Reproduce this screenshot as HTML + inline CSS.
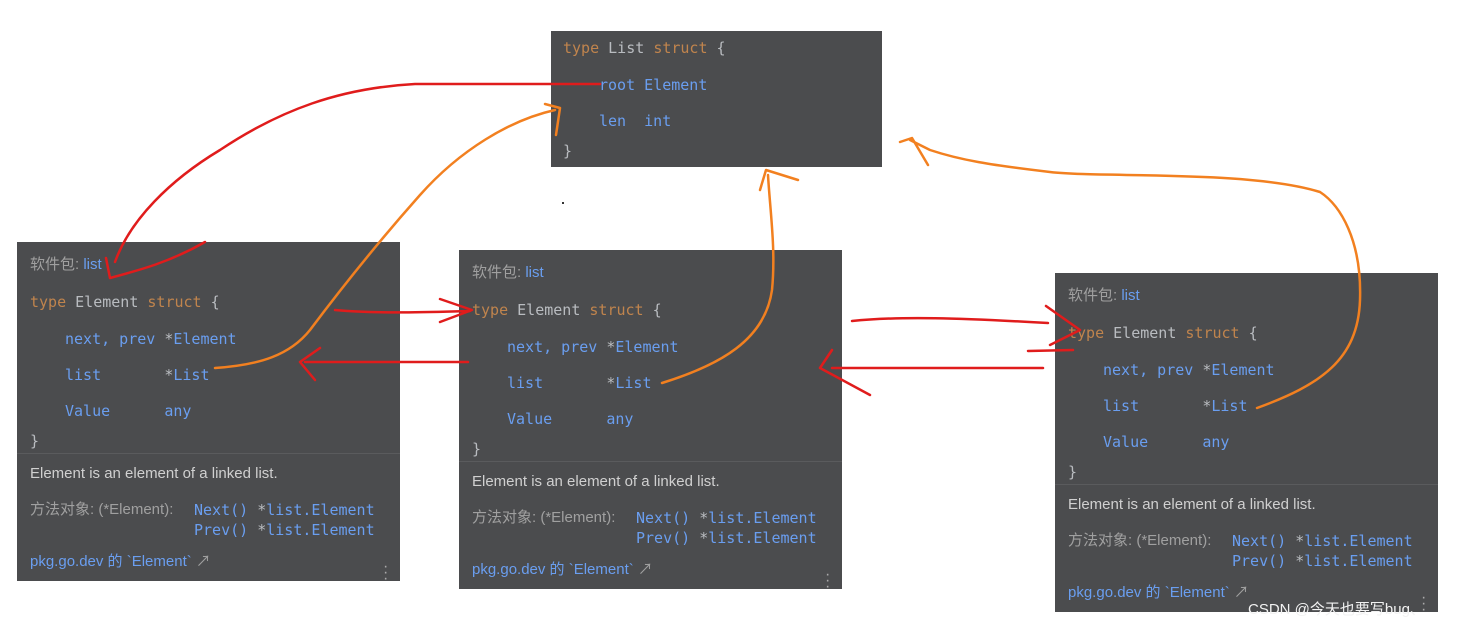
<!DOCTYPE html>
<html><head><meta charset="utf-8"><style>
body{margin:0;width:1474px;height:631px;background:#fff;position:relative;overflow:hidden;font-family:"Liberation Sans","Noto Sans CJK SC",sans-serif}
.box{position:absolute;background:#4b4c4e;}
.l{position:absolute;white-space:pre;font-size:15px;line-height:18px}
.m{font-family:"DejaVu Sans Mono","Liberation Mono",monospace;font-size:15px;}
.k{color:#c0844d}.w{color:#b9bcc0}.b{color:#6a9ef0}.g{color:#a0a0a0}.d{color:#d0d0d0}
.div{position:absolute;left:0;right:0;height:1px;background:#5a5b5d}
.dots{position:absolute;width:4px;color:#aaa;font-size:16px;line-height:6px}
</style></head><body>
<div class="box" style="left:551px;top:31px;width:331px;height:136px">
<div class="l m" style="left:12px;top:8px"><span class="k">type</span> <span class="w">List</span> <span class="k">struct</span> <span class="w">{</span></div>
<div class="l m b" style="left:48px;top:45px">root Element</div>
<div class="l m b" style="left:48px;top:81px">len  int</div>
<div class="l m w" style="left:12px;top:111px">}</div>
</div>

<div class="box" style="left:17px;top:242px;width:383px;height:339px">
<div class="l" style="left:13px;top:14px"><span class="g">软件包: </span><span class="b">list</span></div>
<div class="l m" style="left:13px;top:51px"><span class="k">type</span> <span class="w">Element</span> <span class="k">struct</span> <span class="w">{</span></div>
<div class="l m b" style="left:48px;top:88px">next, prev <span class="w">*</span>Element</div>
<div class="l m b" style="left:48px;top:124px">list       <span class="w">*</span>List</div>
<div class="l m b" style="left:48px;top:160px">Value      any</div>
<div class="l m w" style="left:13px;top:190px">}</div>
<div class="div" style="top:211px"></div>
<div class="l d" style="left:13px;top:223px">Element is an element of a linked list.</div>
<div class="l g" style="left:13px;top:259px">方法对象: (*Element):</div>
<div class="l m b" style="left:177px;top:259px">Next() <span class="w">*</span>list.Element</div>
<div class="l m b" style="left:177px;top:279px">Prev() <span class="w">*</span>list.Element</div>
<div class="l b" style="left:13px;top:311px">pkg.go.dev 的 `Element`<span class="g"> ↗</span></div>
<div class="dots" style="left:366px;top:322px">·<br>·<br>·</div>
</div>

<div class="box" style="left:459px;top:250px;width:383px;height:339px">
<div class="l" style="left:13px;top:14px"><span class="g">软件包: </span><span class="b">list</span></div>
<div class="l m" style="left:13px;top:51px"><span class="k">type</span> <span class="w">Element</span> <span class="k">struct</span> <span class="w">{</span></div>
<div class="l m b" style="left:48px;top:88px">next, prev <span class="w">*</span>Element</div>
<div class="l m b" style="left:48px;top:124px">list       <span class="w">*</span>List</div>
<div class="l m b" style="left:48px;top:160px">Value      any</div>
<div class="l m w" style="left:13px;top:190px">}</div>
<div class="div" style="top:211px"></div>
<div class="l d" style="left:13px;top:223px">Element is an element of a linked list.</div>
<div class="l g" style="left:13px;top:259px">方法对象: (*Element):</div>
<div class="l m b" style="left:177px;top:259px">Next() <span class="w">*</span>list.Element</div>
<div class="l m b" style="left:177px;top:279px">Prev() <span class="w">*</span>list.Element</div>
<div class="l b" style="left:13px;top:311px">pkg.go.dev 的 `Element`<span class="g"> ↗</span></div>
<div class="dots" style="left:366px;top:322px">·<br>·<br>·</div>
</div>

<div class="box" style="left:1055px;top:273px;width:383px;height:339px">
<div class="l" style="left:13px;top:14px"><span class="g">软件包: </span><span class="b">list</span></div>
<div class="l m" style="left:13px;top:51px"><span class="k">type</span> <span class="w">Element</span> <span class="k">struct</span> <span class="w">{</span></div>
<div class="l m b" style="left:48px;top:88px">next, prev <span class="w">*</span>Element</div>
<div class="l m b" style="left:48px;top:124px">list       <span class="w">*</span>List</div>
<div class="l m b" style="left:48px;top:160px">Value      any</div>
<div class="l m w" style="left:13px;top:190px">}</div>
<div class="div" style="top:211px"></div>
<div class="l d" style="left:13px;top:223px">Element is an element of a linked list.</div>
<div class="l g" style="left:13px;top:259px">方法对象: (*Element):</div>
<div class="l m b" style="left:177px;top:259px">Next() <span class="w">*</span>list.Element</div>
<div class="l m b" style="left:177px;top:279px">Prev() <span class="w">*</span>list.Element</div>
<div class="l b" style="left:13px;top:311px">pkg.go.dev 的 `Element`<span class="g"> ↗</span></div>
<div class="dots" style="left:366px;top:322px">·<br>·<br>·</div>
</div>
<div class="l" style="left:1248px;top:601px;color:#f2f2f2;font-size:15px">CSDN @今天也要写bug、</div>
<div style="position:absolute;left:562px;top:202px;width:2px;height:2px;background:#333"></div>

<svg width="1474" height="631" style="position:absolute;left:0;top:0" fill="none" stroke-linecap="round" stroke-linejoin="round" stroke-width="2.5">
<g stroke="#e01c1c">
<path d="M600,84 L415,84 C340,88 280,110 220,150 C170,180 130,220 115,262"/>
<path d="M205,242 C170,262 140,270 110,278 L106,258"/>
<path d="M335,310 C380,314 430,312 470,311"/>
<path d="M440,299 L472,310 L440,322"/>
<path d="M468,362 L305,362"/>
<path d="M320,348 L300,362 L315,380"/>
<path d="M852,321 C900,316 960,318 1048,323"/>
<path d="M1046,306 L1080,330 L1050,345"/>
<path d="M1028,351 L1073,350"/>
<path d="M1043,368 L832,368"/>
<path d="M832,350 L820,368 L870,395"/>
</g>
<g stroke="#f28020">
<path d="M215,368 C260,365 290,355 310,330 C340,290 380,240 420,195 C460,150 510,120 555,110"/>
<path d="M545,104 L560,108 L556,135"/>
<path d="M662,383 C720,365 765,340 772,290 C776,250 770,210 768,175"/>
<path d="M760,190 L766,170 L798,180"/>
<path d="M1257,408 C1320,385 1358,360 1360,300 C1362,240 1340,205 1320,192 C1250,170 1100,178 1050,172 C990,165 960,160 930,150 L910,140"/>
<path d="M900,142 L912,138 L928,165"/>
</g>
</svg>
</body></html>
